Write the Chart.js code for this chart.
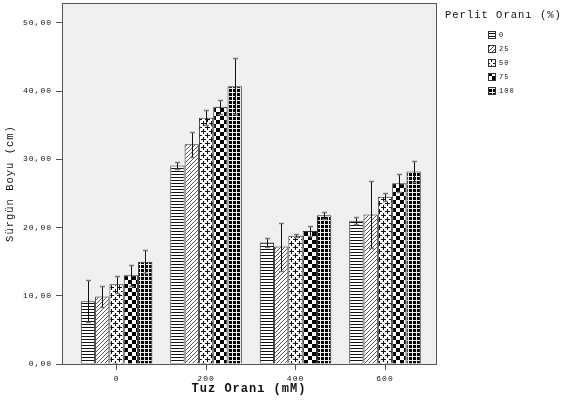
<!DOCTYPE html>
<html>
<head>
<meta charset="utf-8">
<script src="https://cdn.jsdelivr.net/npm/chart.js@4/dist/chart.umd.min.js"></script>
<style>
  html, body { margin: 0; padding: 0; background: #fff; }
  #wrap { width: 566px; height: 410px; }
</style>
</head>
<body>
<div id="wrap"><canvas id="chart" width="566" height="410"></canvas></div>
<script>
// Tuz orani (mM) categories on the x axis
var saltLevels = [0, 200, 400, 600];
var perlitLabels = ['0', '25', '50', '75', '100'];
var yTicks = [0, 10, 20, 30, 40, 50];

// mean shoot length per perlit level, one value per salt level
var perlit0 = [9.2, 29.1, 17.8, 21.0];
var perlit25 = [9.9, 32.2, 17.2, 21.9];
var perlit50 = [11.7, 36.1, 18.8, 24.5];
var perlit75 = [13.0, 37.7, 19.5, 26.5];
var perlit100 = [15.0, 40.7, 21.8, 28.2];

// error bar half lengths
var err0 = [3.1, 0.55, 0.6, 0.55];
var err25 = [1.55, 1.8, 3.5, 4.85];
var err50 = [1.25, 1.05, 0.2, 0.6];
var err75 = [1.5, 1.0, 0.7, 1.3];
var err100 = [1.65, 4.1, 0.5, 1.5];

var canvas = document.getElementById('chart');
var ctx = canvas.getContext('2d');
var monoFont = '"Liberation Mono", "DejaVu Sans Mono", monospace';

function makePattern(w, h, draw) {
  var c = document.createElement('canvas');
  c.width = w;
  c.height = h;
  var g = c.getContext('2d');
  g.fillStyle = '#fff';
  g.fillRect(0, 0, w, h);
  draw(g);
  return ctx.createPattern(c, 'repeat');
}

var patterns = [
  // horizontal lines
  makePattern(1, 3, function(g) {
    g.fillStyle = '#111';
    g.fillRect(0, 0, 1, 1);
  }),
  // diagonal hatch
  makePattern(4, 4, function(g) {
    g.fillStyle = '#555';
    g.fillRect(3, 0, 1, 1);
    g.fillRect(2, 1, 1, 1);
    g.fillRect(1, 2, 1, 1);
    g.fillRect(0, 3, 1, 1);
  }),
  // plus signs
  makePattern(8, 8, function(g) {
    g.fillStyle = '#111';
    g.fillRect(1, 3, 5, 1);
    g.fillRect(3, 1, 1, 5);
    g.fillRect(5, 7, 3, 1);
    g.fillRect(0, 7, 2, 1);
    g.fillRect(7, 5, 1, 3);
    g.fillRect(7, 0, 1, 2);
  }),
  // checkerboard
  makePattern(8, 8, function(g) {
    g.fillStyle = '#000';
    g.fillRect(0, 0, 4, 4);
    g.fillRect(4, 4, 4, 4);
  }),
  // dense grid
  makePattern(4, 4, function(g) {
    g.fillStyle = '#000';
    g.fillRect(0, 0, 4, 4);
    g.fillStyle = '#eee';
    g.fillRect(0, 0, 4, 1);
    g.fillRect(0, 0, 1, 4);
  })
];

var seriesValues = [perlit0, perlit25, perlit50, perlit75, perlit100];
var seriesErrors = [err0, err25, err50, err75, err100];

var datasets = seriesValues.map(function(values, i) {
  return {
    label: perlitLabels[i],
    data: values.map(function(v, j) { return { x: saltLevels[j], y: v }; }),
    errors: seriesErrors[i],
    backgroundColor: patterns[i],
    borderColor: '#333',
    borderWidth: 1,
    categoryPercentage: 0.8,
    barPercentage: 1.0
  };
});

var plotFrame = {
  id: 'plotFrame',
  beforeDraw: function(chart) {
    // bitmap-like spaced lettering, as in the original figure
    chart.ctx.letterSpacing = '1px';
  },
  beforeDatasetsDraw: function(chart) {
    var a = chart.chartArea;
    var c = chart.ctx;
    c.save();
    c.fillStyle = '#f0f0f0';
    c.fillRect(a.left, a.top, a.right - a.left, a.bottom - a.top);
    c.restore();
  },
  afterDatasetsDraw: function(chart) {
    var a = chart.chartArea;
    var c = chart.ctx;
    var yScale = chart.scales.y;
    c.save();
    // error bars
    chart.data.datasets.forEach(function(ds, di) {
      var meta = chart.getDatasetMeta(di);
      meta.data.forEach(function(bar, i) {
        var v = ds.data[i].y;
        var e = ds.errors[i];
        var yTop = Math.round(yScale.getPixelForValue(v + e)) + 0.5;
        var yBot = Math.round(yScale.getPixelForValue(v - e)) + 0.5;
        var x = Math.round(bar.x) + 0.5;
        c.strokeStyle = '#111';
        c.lineWidth = 1;
        c.beginPath();
        c.moveTo(x, yTop);
        c.lineTo(x, yBot);
        c.stroke();
        c.strokeStyle = '#777';
        c.lineWidth = 1.5;
        c.beginPath();
        c.moveTo(x - 2.5, yTop);
        c.lineTo(x + 2.5, yTop);
        c.moveTo(x - 2.5, yBot);
        c.lineTo(x + 2.5, yBot);
        c.stroke();
      });
    });
    // frame
    c.strokeStyle = '#555';
    c.lineWidth = 1;
    c.strokeRect(Math.round(a.left) + 0.5, Math.round(a.top) + 0.5,
      Math.round(a.right - a.left), Math.round(a.bottom - a.top));
    c.restore();
  }
};

var patternLegend = {
  id: 'patternLegend',
  afterDraw: function(chart) {
    var c = chart.ctx;
    c.save();
    c.letterSpacing = '1px';
    c.fillStyle = '#111';
    c.textBaseline = 'middle';
    c.textAlign = 'left';
    c.font = '10.5px ' + monoFont;
    c.fillText('Perlit Oranı (%)', 445, 15);
    c.font = '7px ' + monoFont;
    chart.data.datasets.forEach(function(ds, i) {
      var y = 31 + i * 14;
      c.fillStyle = ds.backgroundColor;
      c.fillRect(488, y, 8, 8);
      c.strokeStyle = '#333';
      c.lineWidth = 1;
      c.strokeRect(488.5, y + 0.5, 7, 7);
      c.fillStyle = '#111';
      c.fillText(ds.label, 499, y + 4.5);
    });
    c.restore();
  }
};

function noPadding(scale) {
  scale.paddingTop = 0;
  scale.paddingBottom = 0;
  scale.paddingLeft = 0;
  scale.paddingRight = 0;
}

new Chart(ctx, {
  type: 'bar',
  data: { datasets: datasets },
  plugins: [plotFrame, patternLegend],
  options: {
    responsive: false,
    animation: false,
    layout: { padding: { top: 3, right: 130, left: 0, bottom: 0 } },
    plugins: {
      legend: { display: false },
      tooltip: { enabled: false }
    },
    scales: {
      x: {
        type: 'linear',
        min: -122,
        max: 714,
        offset: false,
        bounds: 'data',
        afterBuildTicks: function(scale) {
          scale.ticks = saltLevels.map(function(v) { return { value: v }; });
        },
        afterFit: function(scale) {
          scale.height = 46;
          noPadding(scale);
        },
        grid: { drawOnChartArea: false, offset: false, tickLength: 6, color: '#555' },
        border: { display: false },
        ticks: {
          color: '#111',
          padding: 4,
          maxRotation: 0,
          font: { family: monoFont, size: 8 }
        },
        title: {
          display: true,
          text: 'Tuz Oranı (mM)',
          color: '#111',
          padding: { top: 0, bottom: 14 },
          font: { family: monoFont, size: 12, weight: 'bold' }
        }
      },
      y: {
        min: 0,
        max: 52.9,
        afterBuildTicks: function(scale) {
          scale.ticks = yTicks.map(function(v) { return { value: v }; });
        },
        afterFit: function(scale) {
          scale.width = 62;
          noPadding(scale);
        },
        grid: { drawOnChartArea: false, tickLength: 6, color: '#555' },
        border: { display: false },
        ticks: {
          color: '#111',
          padding: 4,
          font: { family: monoFont, size: 8 },
          callback: function(v) { return v.toFixed(2).replace('.', ','); }
        },
        title: {
          display: true,
          text: 'Sürgün Boyu (cm)',
          color: '#111',
          padding: { top: 4, bottom: 0 },
          font: { family: monoFont, size: 10.5 }
        }
      }
    }
  }
});
</script>
</body>
</html>
